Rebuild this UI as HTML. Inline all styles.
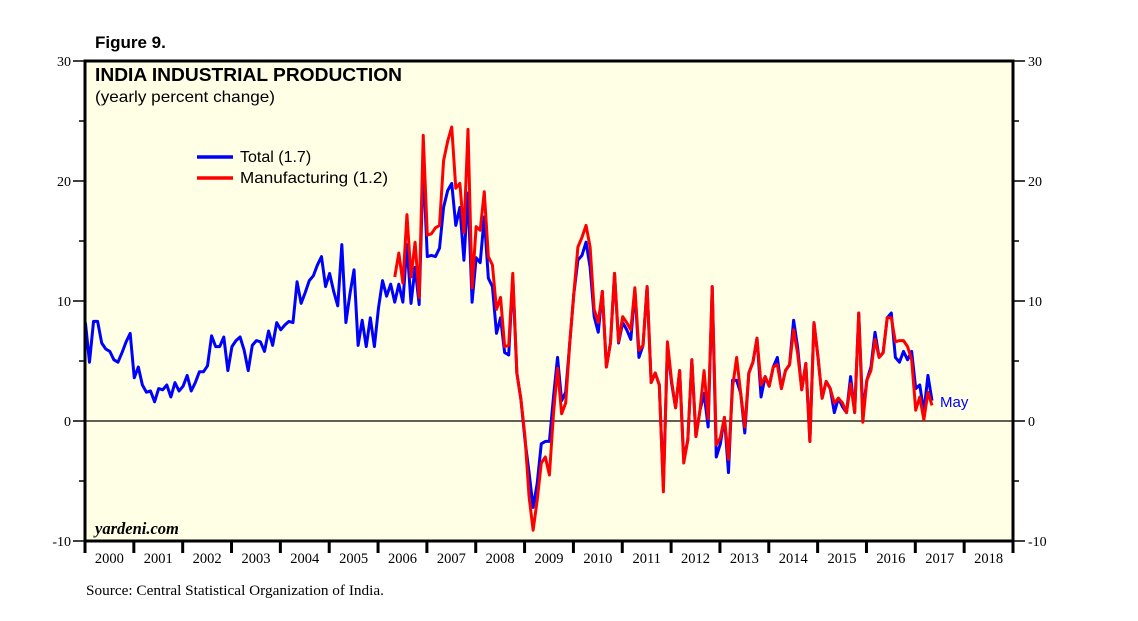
<!DOCTYPE html>
<html><head><meta charset="utf-8"><style>
body{margin:0;background:#fff;}
svg{display:block;font-family:"Liberation Sans",sans-serif;}
.serif{font-family:"Liberation Serif",serif;}
</style></head><body>
<svg id="chart" width="1138" height="621" viewBox="0 0 1138 621">
<text x="95" y="48" font-size="17" font-weight="bold">Figure 9.</text>
<rect x="85" y="61" width="928" height="480" fill="#FFFFE6"/>
<g id="grid"></g>
<g id="series"></g>
<rect x="85" y="61" width="928" height="480" fill="none" stroke="#000" stroke-width="3"/>
<g id="axes"></g>
<text x="95" y="81" font-size="18.5" font-weight="bold" textLength="307" lengthAdjust="spacingAndGlyphs">INDIA INDUSTRIAL PRODUCTION</text>
<text x="95" y="102" font-size="16" textLength="180" lengthAdjust="spacingAndGlyphs">(yearly percent change)</text>
<g>
<line x1="197" y1="157" x2="233" y2="157" stroke="#0000FF" stroke-width="3.5"/>
<text x="240" y="162" font-size="16">Total (1.7)</text>
<line x1="197" y1="178" x2="233" y2="178" stroke="#FF0000" stroke-width="3.5"/>
<text x="240" y="183" font-size="16" textLength="148" lengthAdjust="spacingAndGlyphs">Manufacturing (1.2)</text>
</g>
<text x="940" y="407" font-size="15" fill="#0000FF">May</text>
<text class="serif" x="95" y="534" font-size="16.5" font-style="italic" font-weight="bold">yardeni.com</text>
<text class="serif" x="86" y="595" font-size="14.5" textLength="298" lengthAdjust="spacingAndGlyphs">Source: Central Statistical Organization of India.</text>
</svg>
<script>
const yTicks=[-10,0,10,20,30];
const yearLabels=["2000","2001","2002","2003","2004","2005","2006","2007","2008","2009","2010","2011","2012","2013","2014","2015","2016","2017","2018"];
const total=[8.2,4.9,8.3,8.3,6.5,6.0,5.8,5.1,4.9,5.7,6.6,7.3,3.6,4.5,3.0,2.4,2.5,1.6,2.7,2.6,3.0,2.0,3.2,2.5,2.9,3.8,2.5,3.2,4.1,4.1,4.6,7.1,6.2,6.2,7.0,4.2,6.2,6.7,7.0,5.9,4.2,6.3,6.7,6.6,5.8,7.5,6.3,8.2,7.6,8.0,8.3,8.2,11.6,9.8,10.7,11.7,12.1,13.0,13.7,11.2,12.3,10.8,9.6,14.7,8.2,10.6,12.6,6.3,8.4,6.2,8.6,6.2,9.4,11.7,10.4,11.4,9.9,11.4,9.9,14.7,9.8,12.8,9.7,21.5,13.7,13.8,13.7,14.4,17.8,19.2,19.8,16.3,17.8,13.4,19.0,9.9,13.6,13.2,17.0,11.9,11.2,7.3,8.6,5.7,5.5,12.0,4.0,1.8,-1.6,-4.3,-7.2,-5.2,-1.9,-1.7,-1.7,2.0,5.3,1.7,2.4,6.5,10.6,13.4,13.8,14.9,12.8,8.7,7.4,10.8,4.5,6.5,12.3,6.5,8.2,7.6,6.8,10.9,5.3,6.3,11.2,3.2,4.0,3.0,-5.5,6.3,3.2,1.1,4.2,-3.2,-1.6,5.1,-1.3,0.9,2.3,-0.5,11.2,-3.0,-1.9,0.3,-4.3,3.4,3.4,2.3,-1.0,4.0,4.9,6.9,2.0,3.7,2.9,4.5,5.3,2.7,4.2,4.7,8.4,6.1,2.6,4.8,-1.7,8.2,5.3,1.9,3.3,2.7,0.7,1.9,1.2,0.7,3.7,0.7,9.0,0.7,3.4,4.5,7.4,5.3,5.7,8.6,9.0,5.3,4.9,5.8,5.1,5.8,2.7,3.0,0.7,3.8,1.7];
const manuStart=76;
const manufacturing=[12.0,14.0,11.5,17.2,12.0,14.9,10.3,23.8,15.5,15.6,16.1,16.3,21.7,23.3,24.5,19.4,19.8,15.7,24.3,11.1,16.2,15.9,19.1,13.7,13.0,9.3,10.3,6.2,6.3,12.3,4.0,1.8,-1.3,-6.3,-9.1,-6.6,-3.5,-3.0,-4.5,0.6,4.4,0.6,1.5,6.5,10.6,14.5,15.3,16.3,14.5,9.3,8.2,10.8,4.5,6.5,12.3,6.6,8.7,8.2,7.6,11.1,5.9,6.3,11.2,3.2,4.0,3.0,-5.9,6.6,3.4,1.1,4.2,-3.5,-1.6,5.1,-1.3,0.9,4.2,0.2,11.2,-2.0,-1.4,0.3,-3.2,2.8,5.3,2.3,-0.5,4.0,4.9,6.9,3.0,3.7,2.9,4.5,4.7,2.7,4.2,4.7,7.6,5.6,2.6,4.8,-1.7,8.2,5.3,1.9,3.3,2.7,1.5,1.9,1.5,0.7,3.1,0.7,9.0,-0.1,3.4,4.2,6.8,5.3,5.7,8.6,8.6,6.6,6.7,6.7,6.2,5.1,0.9,2.0,0.1,2.4,1.3];

const NS="http://www.w3.org/2000/svg";
const L=85,R=1013,T=61,B=541,yMin=-10,yMax=30;
const yearW=(R-L)/19;
function yScale(v){return B-(v-yMin)/(yMax-yMin)*(B-T);}
function xScale(i){return L+(i+0.1)*yearW/12;}
function mk(tag,attrs,parent){const e=document.createElementNS(NS,tag);for(const k in attrs)e.setAttribute(k,attrs[k]);parent.appendChild(e);return e;}
const grid=document.getElementById('grid'),axes=document.getElementById('axes'),series=document.getElementById('series');
const z=mk('line',{x1:L,x2:R,y1:yScale(0),y2:yScale(0),stroke:'#000','stroke-width':1.2},grid);


yTicks.forEach(v=>{
  const y=yScale(v);
  mk('line',{x1:L-12,x2:L,y1:y,y2:y,stroke:'#000','stroke-width':1.5},axes);
  mk('line',{x1:R,x2:R+12,y1:y,y2:y,stroke:'#000','stroke-width':1.5},axes);
  const tl=mk('text',{x:L-14,y:y+5,'font-size':14,'text-anchor':'end',class:'serif'},axes);
  tl.textContent=v;
  
  
  const tr=mk('text',{x:R+15,y:y+5,'font-size':14,class:'serif'},axes);
  tr.textContent=v;
  
  
  if(v<yMax){const m=yScale(v+5);
    mk('line',{x1:L-6,x2:L,y1:m,y2:m,stroke:'#000','stroke-width':1.5},axes);
    mk('line',{x1:R,x2:R+6,y1:m,y2:m,stroke:'#000','stroke-width':1.5},axes);}
});
yearLabels.forEach((lab,i)=>{
  const x0=L+i*yearW;
  mk('line',{x1:x0,x2:x0,y1:B,y2:B+12,stroke:'#000','stroke-width':3},axes);
  const t=mk('text',{x:x0+yearW/2,y:B+22,'font-size':14.5,'text-anchor':'middle',class:'serif'},axes);
  t.textContent=lab;
  
  
});
mk('line',{x1:R,x2:R,y1:B,y2:B+12,stroke:'#000','stroke-width':3},axes);
function line(arr,start,color,name){
  const d=arr.map((v,i)=>(i?'L':'M')+xScale(i+start).toFixed(2)+','+yScale(v).toFixed(2)).join('');
  const p=mk('path',{d:d,fill:'none',stroke:color,'stroke-width':3,'stroke-linejoin':'round'},series);
  
  
}
line(total,0,'#0000FF','total-line');
line(manufacturing,manuStart,'#FF0000','manufacturing-line');
</script>
</body></html>
